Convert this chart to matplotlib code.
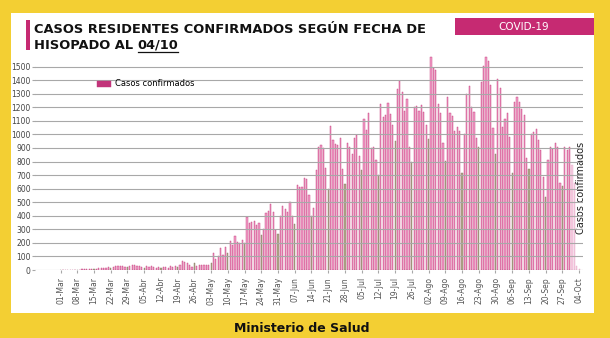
import numpy as np
import pandas as pd
import matplotlib
matplotlib.use('Agg')
from matplotlib import pyplot as plt
from matplotlib.patches import Rectangle
from matplotlib.lines import Line2D

# casos diarios, 01-Mar a 04-Oct
dates = pd.date_range('2020-03-01', '2020-10-04', freq='D')
casos = [
    0, 1, 0, 1, 2, 1, 2,
    3, 2, 4, 6, 5, 8, 6,
    5, 10, 12, 14, 18, 15, 20,
    18, 25, 30, 32, 28, 30, 22,
    20, 32, 35, 38, 30, 28, 22,
    18, 30, 25, 32, 20, 15, 22,
    15, 20, 25, 18, 28, 22, 30,
    25, 35, 70, 62, 50, 38, 22,
    52, 32, 35, 36, 38, 37, 38,
    54, 128, 81, 103, 160, 110, 172,
    123, 216, 184, 250, 206, 201, 221,
    200, 388, 348, 351, 363, 329, 344,
    258, 300, 417, 437, 483, 430, 295,
    265, 400, 470, 447, 430, 500, 400,
    339, 625, 613, 613, 679, 668, 556,
    397, 458, 735, 904, 920, 900, 754,
    597, 1064, 959, 927, 920, 976, 742,
    634, 939, 910, 858, 970, 993, 840,
    737, 1113, 1032, 1155, 902, 910, 810,
    697, 1225, 1125, 1141, 1233, 1148, 1066,
    952, 1332, 1396, 1314, 1172, 1263, 909,
    794, 1199, 1211, 1174, 1216, 1162, 1066,
    963, 1572, 1491, 1474, 1221, 1160, 939,
    806, 1273, 1160, 1135, 1025, 1052, 1027,
    713, 1002, 1295, 1359, 1199, 1167, 971,
    904, 1388, 1504, 1568, 1541, 1364, 1049,
    853, 1405, 1339, 1052, 1113, 1155, 978,
    713, 1241, 1278, 1241, 1187, 1142, 823,
    742, 1000, 1020, 1037, 958, 885, 688,
    541, 811, 909, 889, 934, 909, 644,
    619, 904, 885, 904, 774, 640, 30,
    5,
]
meses = {3: 'Mar', 4: 'Abr', 5: 'May', 6: 'Jun', 7: 'Jul', 8: 'Ago', 9: 'Sep', 10: 'Oct'}
tick_labels = [f'{d.day:02d}-{meses[d.month]}' for d in dates[::7]]
y_ticks = list(range(0, 1600, 100))

W, H = 610, 338
YELLOW = '#f3cf33'
PINK = '#c62a72'

def fx(px):
    return px / W

def fy(py):
    return 1 - py / H

fig = plt.figure(figsize=(W / 100, H / 100), dpi=100, facecolor=YELLOW)

# panel blanco
fig.patches.append(Rectangle((fx(11), fy(313)), (594 - 11) / W, (313 - 13) / H,
                             transform=fig.transFigure, facecolor='white', edgecolor='none', zorder=-2))
# barra rosa del titulo
fig.patches.append(Rectangle((fx(26), fy(50)), 4 / W, 30 / H,
                             transform=fig.transFigure, facecolor=PINK, edgecolor='none', zorder=-1))
# caja COVID-19
fig.patches.append(Rectangle((fx(455), fy(35)), (594 - 455) / W, 17 / H,
                             transform=fig.transFigure, facecolor=PINK, edgecolor='none', zorder=-1))
fig.text(fx(524), fy(27), 'COVID-19', color='white', fontsize=7.5, ha='center', va='center')

tfont = dict(fontsize=9.4, fontweight='bold', color='#111111', family='DejaVu Sans')
fig.text(fx(34), fy(33), 'CASOS RESIDENTES CONFIRMADOS SEGÚN FECHA DE', va='baseline', **tfont)
t1 = fig.text(fx(34), fy(49), 'HISOPADO AL ', va='baseline', **tfont)
fig.canvas.draw()
r = fig.canvas.get_renderer()
bb = t1.get_window_extent(r)
t2 = fig.text(bb.x1 / W, fy(49), '04/10', va='baseline', **tfont)
bb2 = t2.get_window_extent(r)
fig.add_artist(Line2D([bb2.x0 / W, bb2.x1 / W], [fy(51.5), fy(51.5)], transform=fig.transFigure,
                      color='#111111', lw=0.9))

fig.text(fx(302), fy(328), 'Ministerio de Salud', fontsize=9, fontweight='bold',
         color='#111111', ha='center', va='center')

ax = fig.add_axes([fx(35), fy(270), (582.7 - 35) / W, (270 - 53) / H])
ax.set_zorder(5)
ax.set_facecolor('none')

x = np.arange(len(dates))
face = []
edge = []
for i, d in enumerate(dates):
    if i >= len(dates) - 4:
        face.append('#f7cde2'); edge.append('#e6a9c8')
    elif d.dayofweek == 6:
        face.append('#b2a98c'); edge.append('#857660')
    else:
        face.append('#f2a0c9'); edge.append('#c23578')
ax.bar(x, casos, width=0.5, color=face, edgecolor=edge, linewidth=0.3,
       label='Casos confirmados')

ax.set_xlim(-10.7, 218.5)
ax.set_ylim(0, 1600)
ax.set_yticks(y_ticks)
ax.tick_params(axis='y', labelsize=5.5, labelcolor='#444444', length=2, color='#a8a8a8', pad=1)
ax.set_xticks(x[::7])
ax.set_xticklabels(tick_labels, rotation=90)
ax.tick_params(axis='x', labelsize=5.5, labelcolor='#555555', length=2, color='#a8a8a8', pad=3)
ax.yaxis.grid(True, color='#a8a8a8', lw=0.8)
ax.set_axisbelow(False)
for s in ax.spines.values():
    s.set_visible(False)

leg = ax.legend(loc='center left', bbox_to_anchor=(fx(97), fy(84)), bbox_transform=fig.transFigure,
                frameon=False, fontsize=6, borderpad=0, borderaxespad=0,
                handlelength=1.7, handleheight=0.75, handletextpad=0.5)
leg.legend_handles[0].set_color('#c2347a')

fig.text(fx(581), fy(188), 'Casos confirmados', rotation=90, fontsize=7, color='#222222',
         ha='center', va='center')

plt.savefig('out.png', dpi=100, facecolor=YELLOW)
